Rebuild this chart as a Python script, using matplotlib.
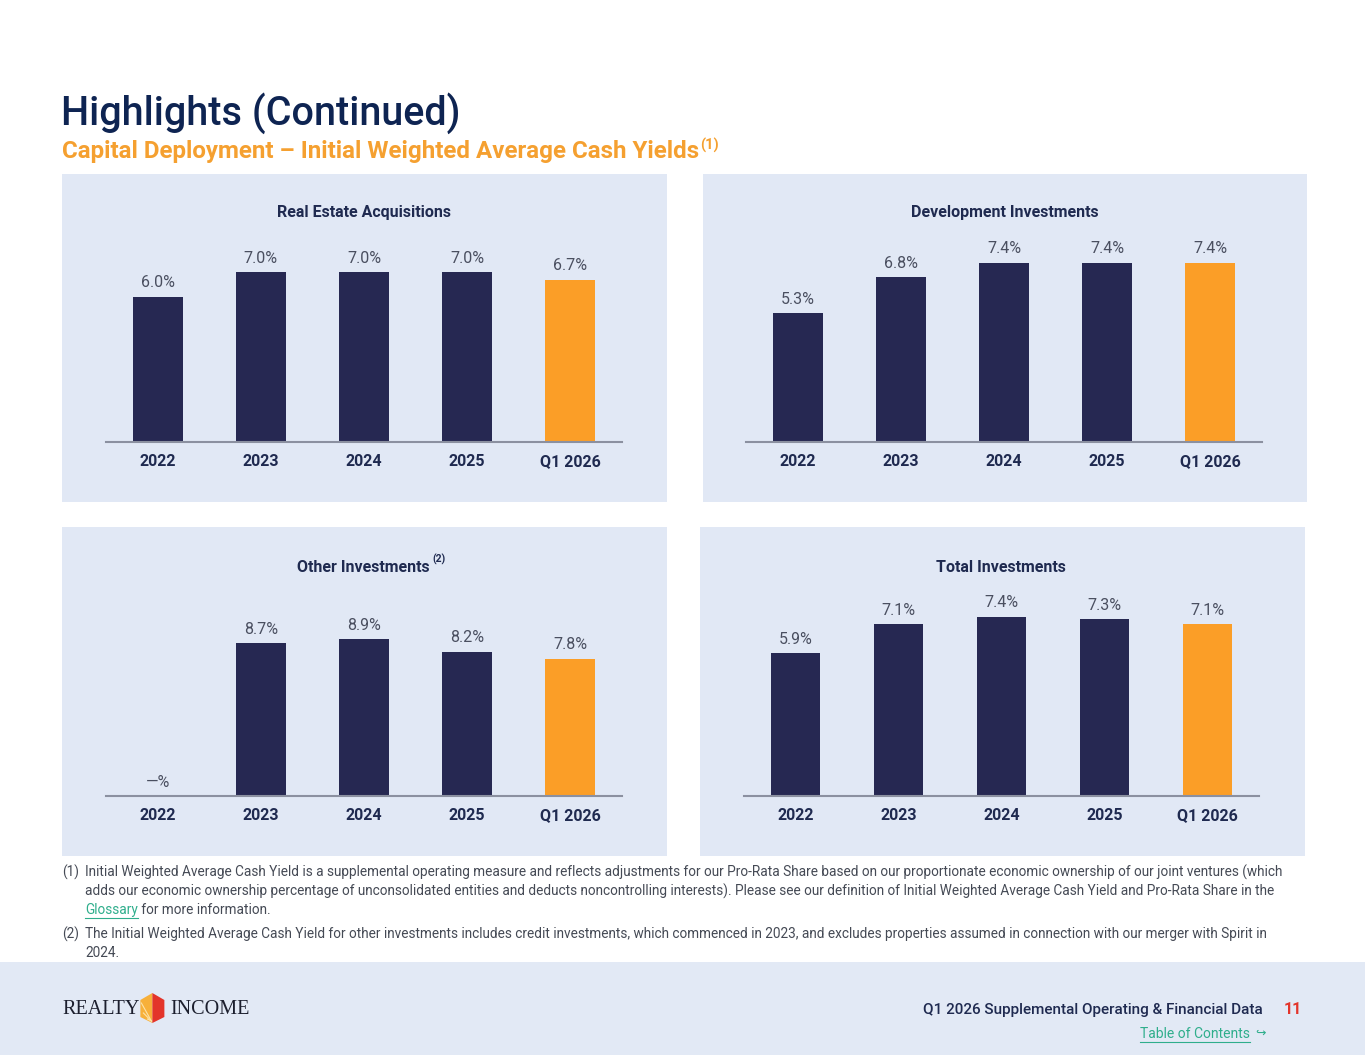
import matplotlib
matplotlib.use('Agg')
import matplotlib.pyplot as plt
import matplotlib.patches as patches

categories = ['2022', '2023', '2024', '2025', 'Q1 2026']
real_estate = [6.0, 7.0, 7.0, 7.0, 6.7]
development = [5.3, 6.8, 7.4, 7.4, 7.4]
other = [0.0, 8.7, 8.9, 8.2, 7.8]
total = [5.9, 7.1, 7.4, 7.3, 7.1]

W, H = 1365, 1055
NAVY = '#262852'
ORANGE = '#fb9e27'
PANEL = '#e1e8f5'
TITLE = '#0e2452'
DARK = '#1f2a50'
GREY = '#4a4f60'
TEAL = '#2fae8c'
REG = ['Roboto', 'DejaVu Sans']

fig = plt.figure(figsize=(W / 100, H / 100), dpi=100)
fig.patch.set_facecolor('white')
renderer = fig.canvas.get_renderer()


def fx(x):
    return x / W


def fy(y):
    return 1 - y / H


def box(x0, y0, x1, y1):
    return [x0 / W, 1 - y1 / H, (x1 - x0) / W, (y1 - y0) / H]


def rect(x0, y0, x1, y1, color):
    fig.add_artist(patches.Rectangle((fx(x0), fy(y1)), (x1 - x0) / W, (y1 - y0) / H,
                                     transform=fig.transFigure, facecolor=color,
                                     edgecolor='none', zorder=0))


def txt(x, y, s, **kw):
    t = fig.text(fx(x), fy(y), s, **kw)
    bb = t.get_window_extent(renderer)
    return bb.x1  # right edge, pixels


# panels and footer band
rect(62, 174, 667, 502, PANEL)
rect(703, 174, 1307, 502, PANEL)
rect(62, 527, 667, 856, PANEL)
rect(700, 527, 1305, 856, PANEL)
rect(0, 962, W, H, '#e2e9f5')

# title block
txt(61, 125, 'Highlights (Continued)', fontsize=28.5, color=TITLE, family=REG,
    weight='medium', va='baseline')
r = txt(62, 158, 'Capital Deployment \u2013 Initial Weighted Average Cash Yields',
        fontsize=17.4, color='#f5a030', family=REG, weight='bold', va='baseline')
txt(r + 1, 150, '(1)', fontsize=10.5, color='#f5a030', family=REG, weight='bold',
    va='baseline')


def bar_panel(ax_box, values, name, title_xy, scale, sup=None):
    x0, y0, x1, y1 = ax_box
    ax = fig.add_axes(box(x0, y0, x1, y1))
    ax.patch.set_alpha(0)
    pos = list(range(len(categories)))
    colors = [NAVY] * (len(values) - 1) + [ORANGE]
    ax.bar(pos, values, width=0.485, color=colors, zorder=2)
    ax.set_xlim(-0.5, len(categories) - 0.5)
    ax.set_ylim(0, (y1 - y0) / scale)
    for p, v in zip(pos, values):
        lab = '\u2014%' if v == 0 else f'{v:.1f}%'
        ax.annotate(lab, (p, v), xytext=(0, 4.5), textcoords='offset points',
                    ha='center', va='bottom', fontsize=11.5, color=GREY, family=REG)
    # category labels on a common baseline below the axis line
    for p, c in zip(pos, categories):
        ax.text(p, -24.5 / (y1 - y0), c, transform=ax.get_xaxis_transform(),
                ha='center', va='baseline', fontsize=11.5, weight='bold', color=DARK,
                family=REG)
    ax.set_xticks([])
    ax.set_yticks([])
    for s in ['top', 'right', 'left']:
        ax.spines[s].set_visible(False)
    ax.spines['bottom'].set_color('#8b90a0')
    ax.spines['bottom'].set_linewidth(1.5)
    r = txt(title_xy[0], title_xy[1], name, fontsize=11.5, weight='bold', color=DARK,
            family=REG, ha='center', va='center')
    if sup:
        txt(r + 3, title_xy[1] - 8, sup, fontsize=7.5, weight='bold', color=DARK,
            family=REG, va='center')
    return ax


bar_panel((106, 232, 622, 442), real_estate, 'Real Estate Acquisitions', (364, 213), 24.25)
bar_panel((746, 232, 1262, 442), development, 'Development Investments', (1005, 213), 24.25)
bar_panel((106, 586, 622, 796), other, 'Other Investments', (363, 567), 17.6, sup='(2)')
bar_panel((744, 586, 1259, 796), total, 'Total Investments', (1001, 567), 24.25)

# footnotes
fn = dict(fontsize=9.8, color='#454a55', family=REG, va='center')
txt(62, 872, '(1)', **fn)
txt(85, 872, 'Initial Weighted Average Cash Yield is a supplemental operating measure and '
    'reflects adjustments for our Pro-Rata Share based on our proportionate economic '
    'ownership of our joint ventures (which', **fn)
txt(85, 891, 'adds our economic ownership percentage of unconsolidated entities and deducts '
    'noncontrolling interests). Please see our definition of Initial Weighted Average '
    'Cash Yield and Pro-Rata Share in the', **fn)
g = dict(fn)
g['color'] = TEAL
r = txt(85, 910, 'Glossary', **g)
fig.add_artist(plt.Line2D([fx(85), fx(r)], [fy(918), fy(918)], color=TEAL, lw=0.8,
                          transform=fig.transFigure))
txt(r, 910, ' for more information.', **fn)
txt(62, 934, '(2)', **fn)
txt(85, 934, 'The Initial Weighted Average Cash Yield for other investments includes credit '
    'investments, which commenced in 2023, and excludes properties assumed in connection '
    'with our merger with Spirit in', **fn)
txt(85, 953, '2024.', **fn)

# logo
r = txt(62, 1009, 'REALTY', fontsize=14.5, family='Liberation Serif', color='#1c1f2e',
        va='center')
cx = r + 13
hexl = [(cx, 993), (cx, 1023), (cx - 12, 1017), (cx - 12, 1000)]
hexr = [(cx, 993), (cx + 12, 1000), (cx + 12, 1017), (cx, 1023)]
fig.add_artist(patches.Polygon([(fx(a), fy(b)) for a, b in hexl], closed=True,
                               transform=fig.transFigure, facecolor='#f7b03a',
                               edgecolor='none'))
fig.add_artist(patches.Polygon([(fx(a), fy(b)) for a, b in hexr], closed=True,
                               transform=fig.transFigure, facecolor='#e3342a',
                               edgecolor='none'))
for dx, dy in [(-11, -4), (-9, 6), (-5, 12)]:
    fig.add_artist(plt.Line2D([fx(cx - 1), fx(cx + dx)], [fy(1021), fy(1021 - 14 + dy)],
                              color='#fde3a8', lw=0.8, transform=fig.transFigure))
txt(cx + 18, 1009, 'INCOME', fontsize=14.5, family='Liberation Serif', color='#1c1f2e',
    va='center')

# footer right
txt(1263, 1010, 'Q1 2026 Supplemental Operating & Financial Data', fontsize=11,
    weight='medium', color=DARK, family=REG, ha='right', va='center')
txt(1293, 1010, '11', fontsize=11.5, weight='bold', color='#e3342a', family=REG,
    ha='center', va='center')
t = fig.text(fx(1250), fy(1034), 'Table of Contents', fontsize=10, color=TEAL,
             family=REG, ha='right', va='center')
bb = t.get_window_extent(renderer)
fig.add_artist(plt.Line2D([bb.x0 / W, bb.x1 / W], [fy(1042), fy(1042)], color=TEAL,
                          lw=0.8, transform=fig.transFigure))
txt(1255, 1033, '\u21aa', fontsize=9, color=TEAL, family='DejaVu Sans', va='center')

fig.savefig('out.png', dpi=100)
